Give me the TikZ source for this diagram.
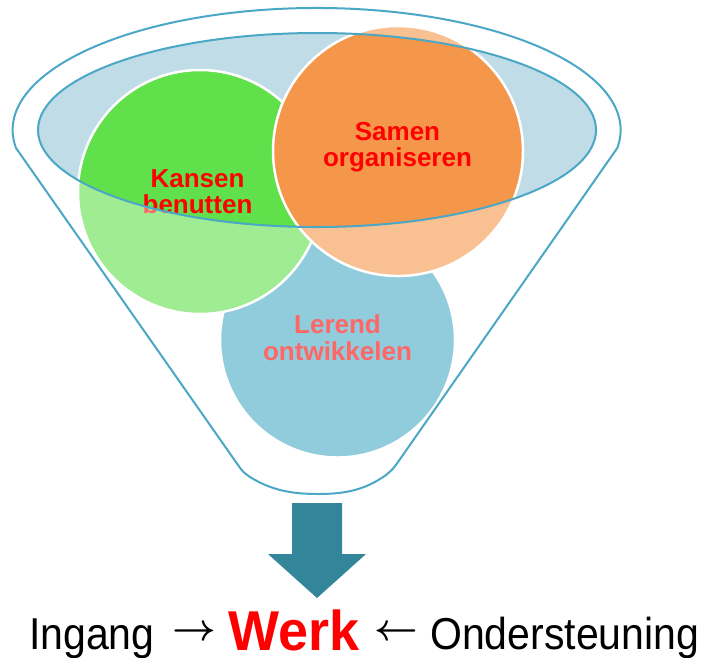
\documentclass[tikz,border=0pt]{standalone}
\usepackage{fontspec}
\setmainfont{Liberation Sans}
\definecolor{funnelline}{RGB}{75,167,198}
\definecolor{mouthfill}{RGB}{192,220,230}
\definecolor{greenc}{RGB}{96,224,74}
\definecolor{orangec}{RGB}{245,151,74}
\definecolor{bluec}{RGB}{73,170,198}
\definecolor{arrowc}{RGB}{51,134,154}
\newcommand\funnelbodypath{(16,148) arc[start angle=171.5, end angle=368.5, x radius=304, y radius=122]
  -- (398,462) .. controls (393,469) .. (386,475)
  .. controls (365,490) and (345,494) .. (318,494)
  .. controls (291,494) and (271,490) .. (250,477)
  .. controls (243,472) .. (238,465) -- cycle}
\tikzset{
  circ/.style={circle, draw=white, line width=2.5pt, inner sep=0pt},
  ctext/.style={font=\fontsize{26}{28}\selectfont\bfseries, text=red, inner sep=0pt, anchor=base},
  btext/.style={font=\fontsize{41}{44}\selectfont, inner sep=0pt},
  arrtext/.style={font=\normalsize\boldmath, inner sep=0pt, anchor=center},
  outline/.style={draw=funnelline, line width=2pt}
}
\begin{document}
\begin{tikzpicture}[x=1pt,y=-1pt]
\useasboundingbox (0,0) rectangle (711,657);
% mouth of the funnel
\fill[mouthfill] (317,130) ellipse [x radius=279, y radius=97];
% circles
\node[circ, fill=bluec, minimum size=235pt] (lerend) at (337.5,340) {};
\node[circ, fill=greenc, minimum size=244pt] (kansen) at (200,192) {};
\node[circ, fill=orangec, minimum size=250pt] (samen) at (398,151) {};
% circle texts
\node[ctext] (k1) at (197.5,187) {Kansen};
\node[ctext] (k2) at (197.5,213) {benutten};
\node[ctext] (s1) at (397.5,140) {Samen};
\node[ctext] (s2) at (397.5,166) {organiseren};
\node[ctext] (l1) at (337.5,333) {Lerend};
\node[ctext] (l2) at (337.5,360) {ontwikkelen};
% translucent front of the funnel
\fill[white, opacity=0.4, even odd rule] \funnelbodypath (317,130) ellipse [x radius=279, y radius=97];
% outlines
\draw[outline, line join=round] \funnelbodypath;
\draw[outline] (317,130) ellipse [x radius=279, y radius=97];
% down arrow
\fill[arrowc] (292,503) -- (342,503) -- (342,554) -- (366,554) -- (317,598) -- (268,554) -- (292,554) -- cycle;
% bottom line
\node[btext, anchor=base west] (ingang) at (29,649) {\scalebox{1}[1.09]{Ingang}};
\node[arrtext] (rarrow) at (194.5,633) {\scalebox{3.8}{$\rightarrow$}};
\node[btext, anchor=base west, text depth=0pt, font=\fontsize{54}{58}\selectfont\bfseries, text=red] (werk) at (228,650) {\scalebox{1}[1.04]{Werk}};
\node[arrtext] (larrow) at (396.5,633) {\scalebox{3.8}{$\leftarrow$}};
\node[btext, anchor=base west] (onder) at (430,649) {\scalebox{1}[1.09]{Ondersteuning}};
\end{tikzpicture}
\end{document}
